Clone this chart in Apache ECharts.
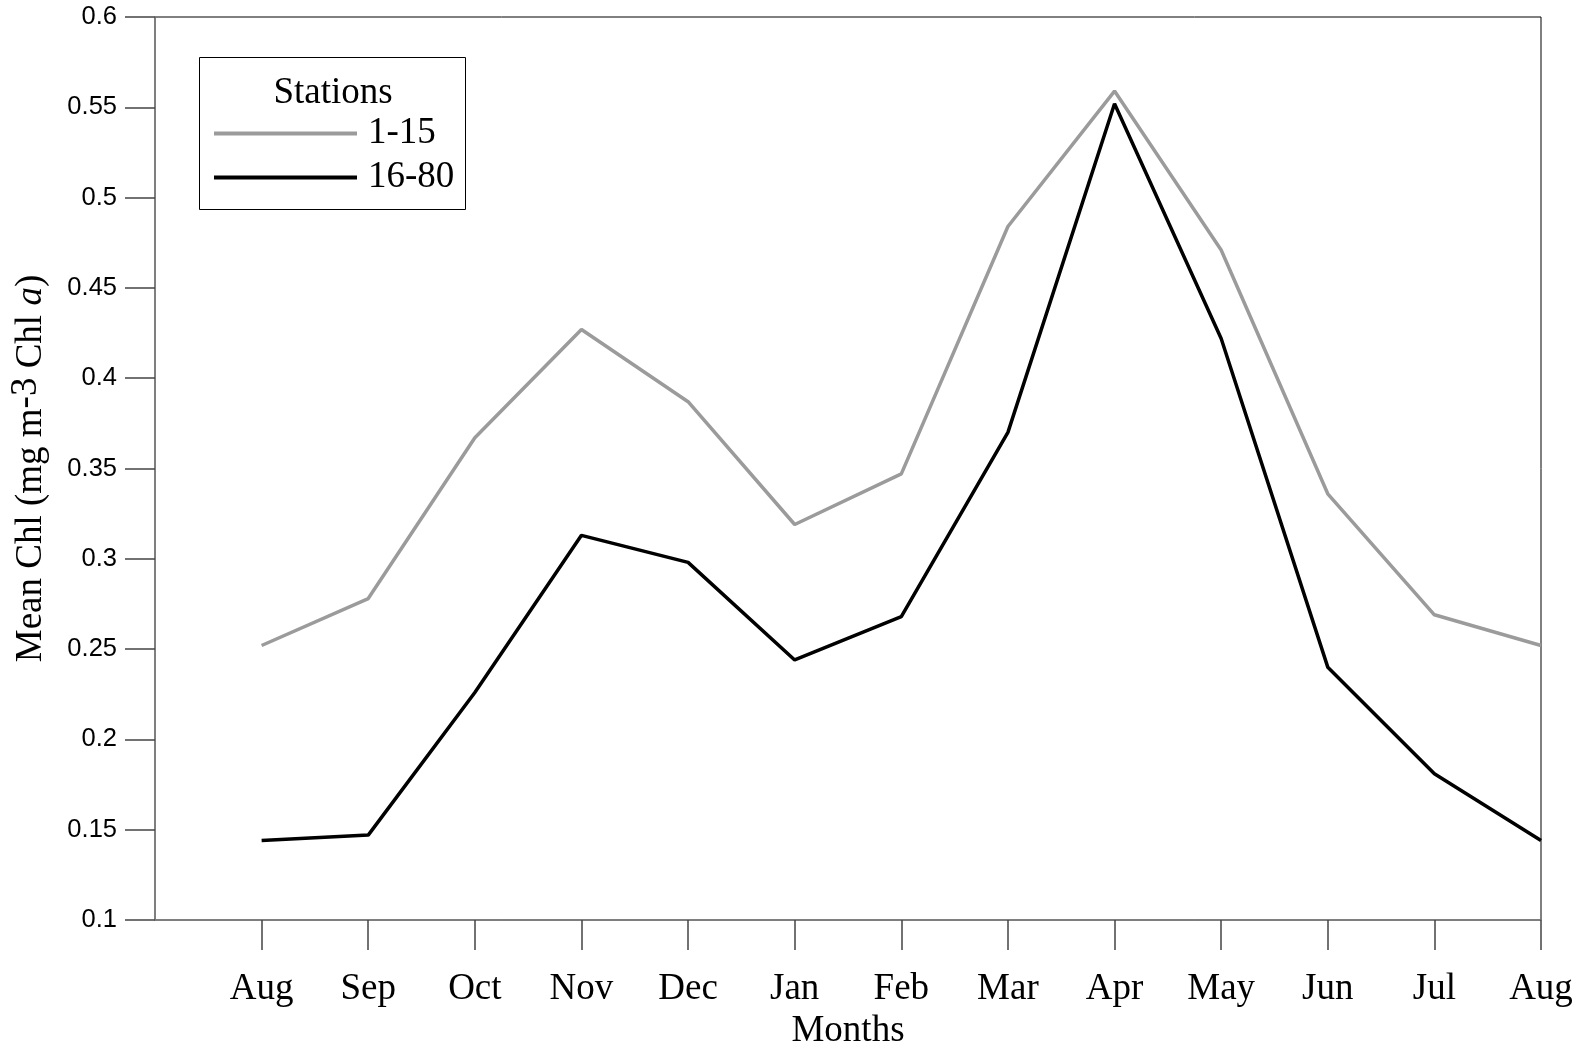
<!DOCTYPE html>
<html>
<head>
<meta charset="utf-8">
<title>Mean Chl by month</title>
<script src="https://cdn.jsdelivr.net/npm/echarts@6/dist/echarts.min.js"></script>
<style>
  html, body { margin: 0; padding: 0; background: #fff; }
  #chart { width: 1584px; height: 1044px; }
</style>
</head>
<body>
<div id="chart"></div>
<script>
// Monthly mean chlorophyll, August to August
const months = ['Aug', 'Sep', 'Oct', 'Nov', 'Dec', 'Jan', 'Feb', 'Mar', 'Apr', 'May', 'Jun', 'Jul', 'Aug'];
const stations1to15 = [0.252, 0.278, 0.367, 0.427, 0.387, 0.319, 0.347, 0.484, 0.559, 0.471, 0.336, 0.269, 0.252];
const stations16to80 = [0.144, 0.147, 0.226, 0.313, 0.298, 0.244, 0.268, 0.370, 0.552, 0.422, 0.240, 0.181, 0.144];
const yTicks = { min: 0.1, max: 0.6, step: 0.05 };

// The value axis sits one month-step left of the first month, so a blank
// leading slot is added to the category axis.
const xCategories = [''].concat(months);
const pad = (arr) => [null].concat(arr);

const serif = 'Liberation Serif';
const sans = 'Liberation Sans';
const serifSize = 37;

// thin horizontal bar used as the legend key
const legendBar = 'path://M0,0H36V1H0Z';

const chart = echarts.init(document.getElementById('chart'), null, { renderer: 'canvas' });

chart.setOption({
  animation: false,
  backgroundColor: '#fff',
  grid: {
    left: 155, right: 43, top: 17, bottom: 124,
    outerBoundsMode: 'none',
    containLabel: false,
    show: true, borderColor: '#000', borderWidth: 1, backgroundColor: 'transparent'
  },
  legend: {
    orient: 'vertical',
    left: 214, top: 115,
    itemWidth: 143, itemHeight: 30, itemGap: 7,
    padding: 0,
    textStyle: { fontFamily: serif, fontSize: serifSize, color: '#000', padding: [0, 0, 0, 6] },
    data: [
      { name: '1-15', icon: legendBar },
      { name: '16-80', icon: legendBar }
    ]
  },
  graphic: [
    {
      type: 'rect', left: 199, top: 57, z: 100,
      shape: { width: 266, height: 152 },
      style: { fill: 'transparent', stroke: '#000', lineWidth: 1 }
    },
    {
      type: 'text', z: 100,
      style: {
        text: 'Stations', x: 333, y: 93, align: 'center', verticalAlign: 'middle',
        font: serifSize + 'px "Liberation Serif"', fill: '#000'
      }
    }
  ],
  xAxis: {
    type: 'category',
    data: xCategories,
    boundaryGap: false,
    name: 'Months',
    nameLocation: 'middle',
    nameGap: 93,
    nameTextStyle: { fontFamily: serif, fontSize: serifSize, color: '#000' },
    axisLine: { lineStyle: { color: '#7f7f7f', width: 1.5 } },
    axisTick: {
      length: 30, inside: false,
      interval: (i) => i > 0,
      lineStyle: { color: '#444', width: 1.5 }
    },
    axisLabel: {
      interval: (i) => i > 0,
      margin: 51,
      fontFamily: serif, fontSize: serifSize, color: '#000'
    },
    splitLine: { show: false }
  },
  yAxis: {
    type: 'value',
    min: yTicks.min, max: yTicks.max, interval: yTicks.step,
    name: '{t|Mean Chl (mg m}{s|-3}{t| Chl }{i|a}{t|)}',
    nameLocation: 'middle',
    nameGap: 100,
    nameTextStyle: {
      rich: {
        t: { fontFamily: serif, fontSize: serifSize, color: '#000' },
        s: { fontFamily: serif, fontSize: serifSize, color: '#000', verticalAlign: 'top', padding: [0, 0, 10, 0] },
        i: { fontFamily: serif, fontSize: serifSize, fontStyle: 'italic', color: '#000' }
      }
    },
    axisLine: { show: true, lineStyle: { color: '#7f7f7f', width: 1.5 } },
    axisTick: { show: true, length: 30, inside: false, lineStyle: { color: '#444', width: 1.5 } },
    axisLabel: {
      margin: 38,
      fontFamily: sans, fontSize: 25.5, color: '#000',
      formatter: (v) => String(parseFloat(v.toFixed(2)))
    },
    splitLine: { show: false }
  },
  series: [
    {
      name: '1-15', type: 'line', data: pad(stations1to15),
      symbol: 'none', connectNulls: false,
      lineStyle: { color: '#9b9b9b', width: 3.5 },
      itemStyle: { color: '#9b9b9b' }
    },
    {
      name: '16-80', type: 'line', data: pad(stations16to80),
      symbol: 'none', connectNulls: false,
      lineStyle: { color: '#000', width: 3.5 },
      itemStyle: { color: '#000' }
    }
  ]
});
</script>
</body>
</html>
